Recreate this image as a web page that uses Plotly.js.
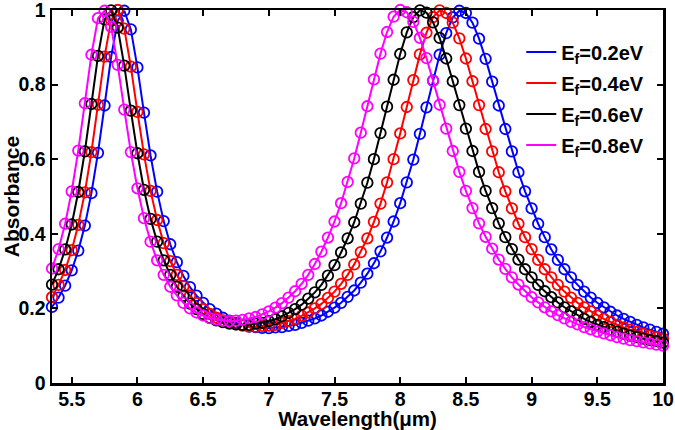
<!DOCTYPE html>
<html>
<head>
<meta charset="utf-8">
<script src="https://cdn.plot.ly/plotly-3.0.1.min.js"></script>
<style>html,body{margin:0;padding:0;background:#fff;}</style>
</head>
<body>
<div id="chart" style="width:675px;height:430px;"></div>
<script>
const wavelength = [5.35,5.40,5.45,5.50,5.55,5.60,5.65,5.70,5.75,5.80,
5.85,5.90,5.95,6.00,6.05,6.10,6.15,6.20,6.25,6.30,
6.35,6.40,6.45,6.50,6.55,6.60,6.65,6.70,6.75,6.80,
6.85,6.90,6.95,7.00,7.05,7.10,7.15,7.20,7.25,7.30,
7.35,7.40,7.45,7.50,7.55,7.60,7.65,7.70,7.75,7.80,
7.85,7.90,7.95,8.00,8.05,8.10,8.15,8.20,8.25,8.30,
8.35,8.40,8.45,8.50,8.55,8.60,8.65,8.70,8.75,8.80,
8.85,8.90,8.95,9.00,9.05,9.10,9.15,9.20,9.25,9.30,
9.35,9.40,9.45,9.50,9.55,9.60,9.65,9.70,9.75,9.80,
9.85,9.90,9.95,10.00];

const absEf02 = [0.204,0.229,0.261,0.302,0.355,0.422,0.509,0.617,0.744,0.874,
0.971,0.998,0.948,0.846,0.725,0.610,0.513,0.434,0.372,0.324,
0.287,0.257,0.234,0.215,0.198,0.186,0.175,0.167,0.161,0.156,
0.151,0.150,0.148,0.147,0.149,0.150,0.153,0.156,0.161,0.167,
0.173,0.181,0.191,0.202,0.215,0.231,0.248,0.269,0.293,0.321,
0.353,0.390,0.433,0.482,0.538,0.599,0.668,0.739,0.811,0.880,
0.938,0.980,0.998,0.992,0.966,0.923,0.869,0.808,0.744,0.681,
0.621,0.565,0.514,0.468,0.427,0.391,0.358,0.330,0.305,0.283,
0.263,0.245,0.229,0.215,0.203,0.191,0.181,0.172,0.164,0.156,
0.149,0.143,0.137,0.132];

const absEf04 = [0.230,0.263,0.303,0.356,0.424,0.511,0.619,0.746,0.875,0.973,
1.000,0.950,0.848,0.727,0.613,0.515,0.437,0.375,0.327,0.290,
0.259,0.234,0.214,0.198,0.185,0.175,0.168,0.161,0.157,0.154,
0.152,0.151,0.153,0.154,0.156,0.161,0.166,0.172,0.180,0.189,
0.200,0.212,0.228,0.245,0.266,0.290,0.318,0.351,0.388,0.432,
0.481,0.538,0.600,0.669,0.740,0.812,0.881,0.939,0.981,0.999,
0.992,0.966,0.924,0.870,0.809,0.745,0.681,0.621,0.565,0.514,
0.468,0.427,0.391,0.359,0.330,0.305,0.283,0.263,0.245,0.229,
0.215,0.203,0.192,0.181,0.172,0.164,0.156,0.149,0.143,0.137,
0.132,0.127,0.123,0.119];

const absEf06 = [0.264,0.305,0.358,0.425,0.512,0.621,0.748,0.877,0.975,0.999,
0.953,0.851,0.730,0.616,0.518,0.440,0.379,0.329,0.290,0.258,
0.234,0.213,0.198,0.185,0.175,0.168,0.163,0.159,0.157,0.156,
0.156,0.159,0.161,0.166,0.171,0.179,0.188,0.198,0.210,0.226,
0.243,0.263,0.288,0.316,0.350,0.388,0.431,0.481,0.537,0.600,
0.670,0.741,0.813,0.882,0.940,0.981,0.999,0.993,0.967,0.925,
0.870,0.809,0.745,0.682,0.622,0.566,0.515,0.469,0.428,0.391,
0.359,0.331,0.305,0.283,0.263,0.246,0.230,0.216,0.203,0.192,
0.182,0.172,0.164,0.156,0.150,0.143,0.138,0.132,0.127,0.123,
0.119,0.115,0.112,0.108];

const absEf08 = [0.307,0.359,0.427,0.514,0.623,0.750,0.880,0.978,0.998,0.955,
0.853,0.733,0.619,0.522,0.442,0.379,0.329,0.290,0.258,0.235,
0.215,0.200,0.189,0.181,0.174,0.170,0.167,0.166,0.167,0.169,
0.173,0.177,0.184,0.192,0.202,0.214,0.229,0.246,0.266,0.290,
0.319,0.352,0.390,0.433,0.482,0.539,0.602,0.671,0.742,0.814,
0.883,0.941,0.982,1.000,0.994,0.968,0.925,0.871,0.810,0.746,
0.682,0.622,0.566,0.515,0.469,0.428,0.392,0.360,0.331,0.306,
0.283,0.264,0.246,0.230,0.216,0.203,0.192,0.182,0.173,0.164,
0.157,0.150,0.144,0.138,0.133,0.128,0.123,0.119,0.115,0.112,
0.109,0.106,0.103,0.100];

const seriesNames = ['E<sub>f</sub>=0.2eV','E<sub>f</sub>=0.4eV','E<sub>f</sub>=0.6eV','E<sub>f</sub>=0.8eV'];
const seriesColors = ['#0000ff','#ff0000','#000000','#ff00ff'];
const seriesValues = [absEf02, absEf04, absEf06, absEf08];

const xTickVals = [5.5,6,6.5,7,7.5,8,8.5,9,9.5,10];
const xTickText = ['5.5','6','6.5','7','7.5','8','8.5','9','9.5','10'];
const yTickVals = [0,0.2,0.4,0.6,0.8,1];
const yTickText = ['0','0.2','0.4','0.6','0.8','1'];

const FONT = 'Liberation Sans, Arial, Helvetica, sans-serif';
const traces = [];
seriesValues.forEach((vals, k) => {
  traces.push({
    x: wavelength, y: vals, type: 'scatter', mode: 'lines',
    name: seriesNames[k], legendgroup: 'g' + k, showlegend: true,
    line: {color: seriesColors[k], width: 2}, cliponaxis: false
  });
  traces.push({
    x: wavelength, y: vals, type: 'scatter', mode: 'markers',
    name: seriesNames[k], legendgroup: 'g' + k, showlegend: false,
    marker: {symbol: 'circle-open', size: 10.5, color: seriesColors[k], line: {width: 1.8, color: seriesColors[k]}},
    cliponaxis: false
  });
});

const axisCommon = {
  showline: true, linecolor: '#000', linewidth: 2.5, mirror: 'ticks',
  ticks: 'inside', ticklen: 6, tickwidth: 2, tickcolor: '#000',
  showgrid: false, zeroline: false, ticklabeloverflow: 'allow',
  tickfont: {family: FONT, size: 19.5, color: '#000', weight: 'bold'}
};

const layout = {
  width: 675, height: 430,
  margin: {l: 52, r: 12, t: 10, b: 47},
  paper_bgcolor: '#fff', plot_bgcolor: '#fff',
  font: {family: FONT, size: 19, color: '#000', weight: 'bold'},
  xaxis: Object.assign({}, axisCommon, {
    range: [5.35, 10], tickmode: 'array', tickvals: xTickVals, ticktext: xTickText,
    ticklabelstandoff: -3,
    title: {text: 'Wavelength(μm)', font: {family: FONT, size: 20.5, color: '#000', weight: 'bold'}, standoff: 6}
  }),
  yaxis: Object.assign({}, axisCommon, {
    range: [0, 1], tickmode: 'array', tickvals: yTickVals, ticktext: yTickText,
    title: {text: 'Absorbance', font: {family: FONT, size: 21, color: '#000', weight: 'bold'}, standoff: 4}
  }),
  legend: {
    x: 0.768, y: 0.94, xanchor: 'left', yanchor: 'top',
    bgcolor: 'rgba(0,0,0,0)', borderwidth: 0, tracegroupgap: 2,
    font: {family: FONT, size: 20, color: '#000', weight: 'bold'}
  },
  showlegend: true
};

Plotly.newPlot('chart', traces, layout, {staticPlot: true, displayModeBar: false});
</script>
</body>
</html>
